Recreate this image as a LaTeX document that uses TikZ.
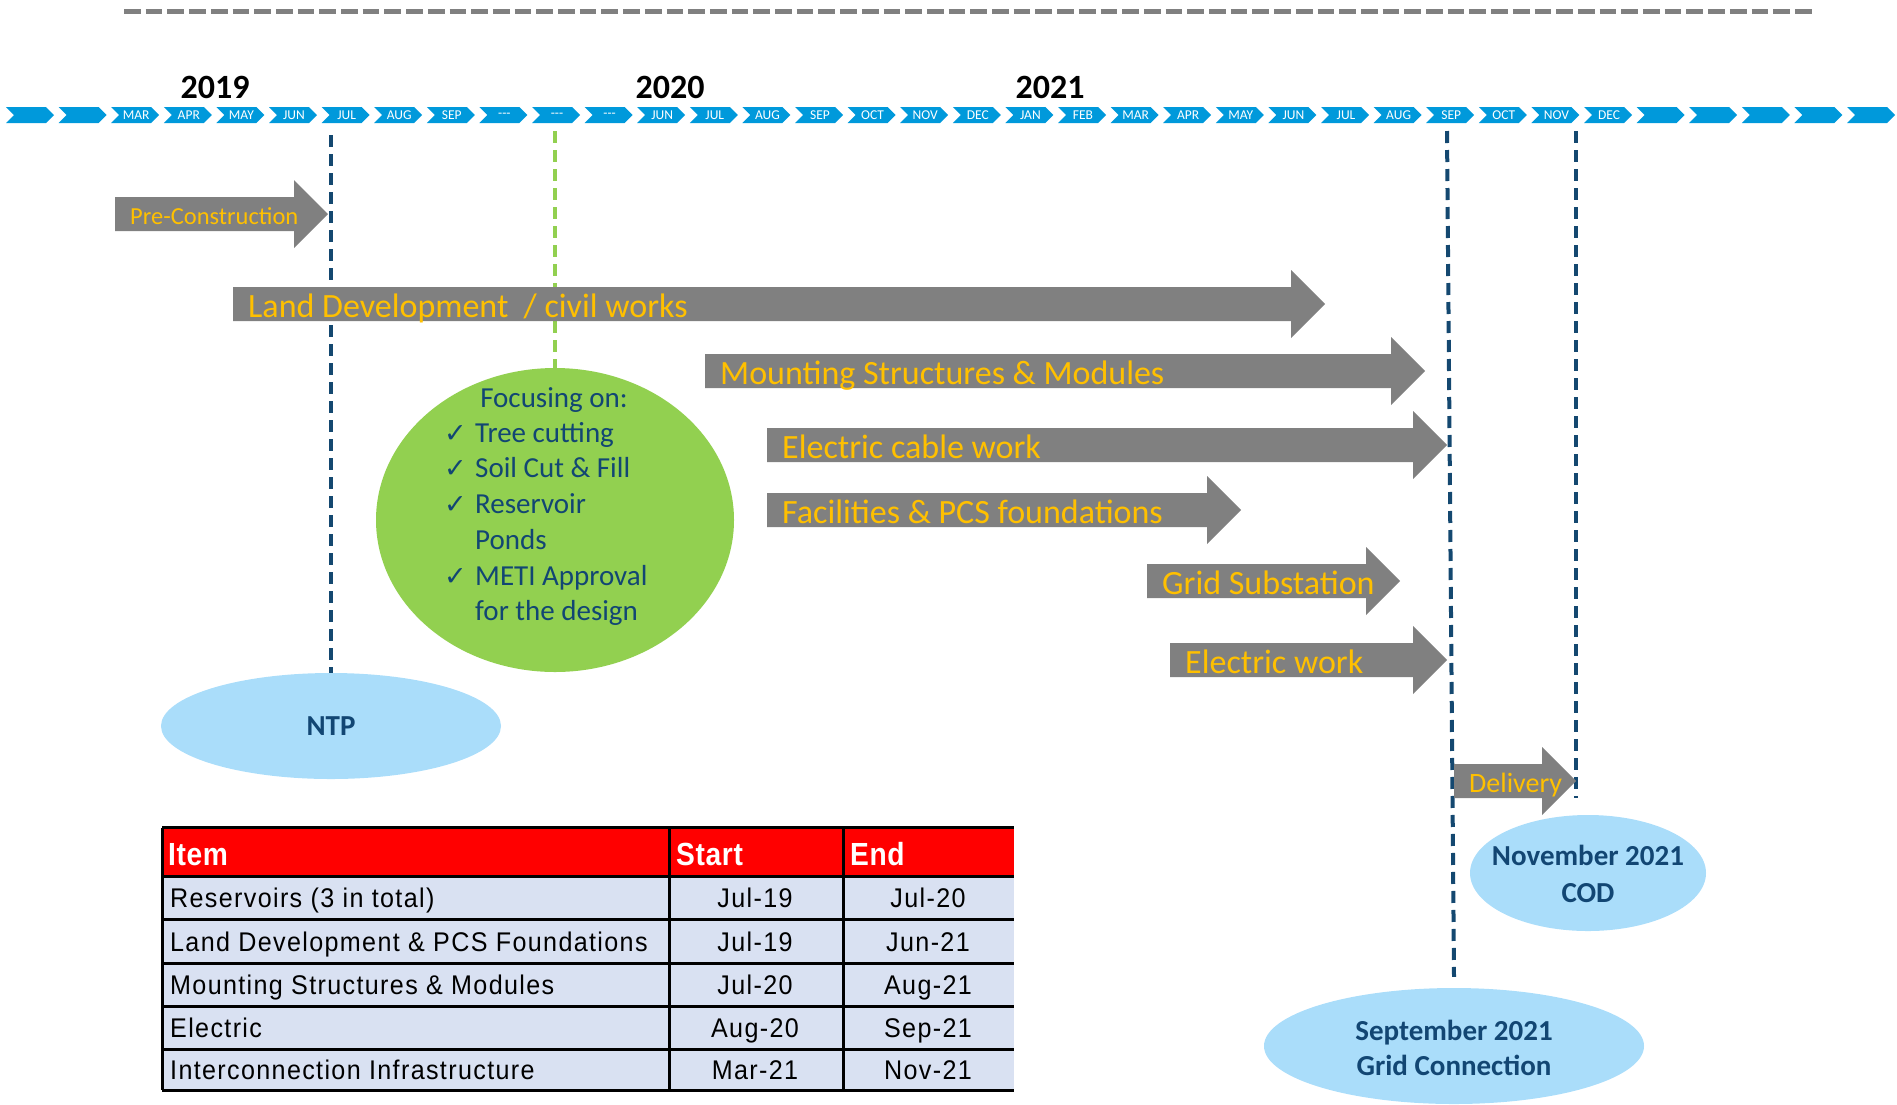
\documentclass[tikz,border=0pt]{standalone}
\usepackage{fontspec}
\setmainfont{Carlito}
\newfontfamily\tabfont[LetterSpace=5,FakeStretch=0.93]{Liberation Sans}
\newfontfamily\tabhead[LetterSpace=2,FakeStretch=0.88]{Liberation Sans}
\newfontfamily\symfont{DejaVu Sans}
\usetikzlibrary{shapes.geometric}
\definecolor{chev}{RGB}{0,153,219}
\definecolor{navy}{RGB}{20,72,112}
\definecolor{navytxt}{RGB}{18,70,115}
\definecolor{grn}{RGB}{146,208,80}
\definecolor{lblue}{RGB}{170,221,250}
\definecolor{gold}{RGB}{255,192,0}
\definecolor{arrgray}{RGB}{128,128,128}
\definecolor{tabred}{RGB}{255,0,0}
\definecolor{tabrow}{RGB}{217,225,242}
\newcommand\fs[1]{\fontsize{#1}{#1}\selectfont}
\newcommand\tdash{-{}-{}-}
\newcommand\barrow[6]{%
  \fill[garrow] (#2,#4-17) -- (#3-34,#4-17) -- (#3-34,#4-34) -- (#3,#4) -- (#3-34,#4+34) -- (#3-34,#4+17) -- (#2,#4+17) -- cycle;
  \node[alab, font=\fs{#6}] (#1) at (#2+15,#4+0.32*#6+2.5) {#5};
}
\tikzset{
  monlab/.style={text=white, font=\fs{13.5}, inner sep=0},
  yearlab/.style={font=\bfseries\fs{34}, inner sep=0},
  garrow/.style={fill=arrgray},
  alab/.style={text=gold, inner sep=0, anchor=base west},
  navydash/.style={draw=navy, line width=4pt, dash pattern=on 12pt off 7pt},
  greendash/.style={draw=grn, line width=4pt, dash pattern=on 12pt off 7pt},
  topdash/.style={draw=arrgray, line width=5pt, dash pattern=on 16.7pt off 5pt},
  blueell/.style={ellipse, fill=lblue, inner sep=0},
  elltxt/.style={text=navytxt, font=\bfseries\fs{29}, align=center, inner sep=0},
  ftxt/.style={text=navytxt, font=\fs{29}, inner sep=0, anchor=base west},
  ctick/.style={text=navytxt, font=\symfont\fs{27}, inner sep=0, anchor=base west},
  tbl/.style={font=\tabfont\fs{27}, inner sep=0, anchor=base west},
  tdate/.style={font=\tabfont\fs{27}, inner sep=0, anchor=base},
  thd/.style={font=\tabhead\bfseries\fs{32}, text=white, inner sep=0, anchor=base west},
  tline/.style={draw=black, line width=3pt},
}
\begin{document}
\begin{tikzpicture}[x=1pt,y=-1pt]
\useasboundingbox (0,0) rectangle (1897,1104);
% top dashed rule
\draw[topdash] (124,11.5) -- (1815,11.5);
% chevrons
\foreach \lab [count=\i from 0] in {{},{},MAR,APR,MAY,JUN,JUL,AUG,SEP,\tdash,\tdash,\tdash,JUN,JUL,AUG,SEP,OCT,NOV,DEC,JAN,FEB,MAR,APR,MAY,JUN,JUL,AUG,SEP,OCT,NOV,DEC,{},{},{},{},{}} {
  \pgfmathsetmacro\xo{6+52.6*\i}
  \fill[chev] (\xo,107) -- ++(40,0) -- ++(8,8) -- ++(-8,8) -- ++(-40,0) -- ++(8,-8) -- cycle;
  \node[monlab] (mon\i) at (\xo+25,115) {\lab};
}
% years
\node[yearlab] (y19) at (215,87) {2019};
\node[yearlab] (y20) at (670,87) {2020};
\node[yearlab] (y21) at (1050,87) {2021};

% milestone ellipses
\node[blueell, minimum width=340pt, minimum height=106pt] (ntp) at (331,726) {};
\node[elltxt] (ntptxt) at (ntp.center) {NTP};
\node[blueell, minimum width=236pt, minimum height=116pt] (cod) at (1588,873) {};
\node[elltxt] (codtxt) at ([yshift=-1pt]cod.center) {November 2021\\[8pt]COD};
\node[blueell, minimum width=380pt, minimum height=116pt] (sep) at (1454,1046) {};
\node[elltxt] (septxt) at ([yshift=-2pt]sep.center) {September 2021\\[6pt]Grid Connection};

% green ellipse + its dashed line
\node[ellipse, fill=grn, minimum width=358pt, minimum height=304pt, inner sep=0] (focus) at (555,520) {};
\draw[greendash] (555,131) -- (focus.north);

% navy dashed milestone lines (under the arrows)
\draw[navydash] (331,135) -- (ntp.north);
\coordinate (septop) at (1447,131);
\draw[navydash] (septop) -- ([yshift=11pt]sep.north);
\coordinate (novtop) at (1576,131);
\coordinate (novend) at (1576,798);
\draw[navydash] (novtop) -- (novend);

\node[text=navytxt, font=\fs{29}, inner sep=0, anchor=base] (f0) at (554,407) {Focusing on:};
\node[ctick] (c1) at (444,442) {✓};
\node[ftxt] (f1) at (475,442) {Tree cutting};
\node[ctick] (c2) at (444,477) {✓};
\node[ftxt] (f2) at (475,477) {Soil Cut \& Fill};
\node[ctick] (c3) at (444,513) {✓};
\node[ftxt] (f3) at (475,513) {Reservoir};
\node[ftxt] (f4) at (475,549) {Ponds};
\node[ctick] (c4) at (444,585) {✓};
\node[ftxt] (f5) at (475,585) {METI Approval};
\node[ftxt] (f6) at (475,620) {for the design};

% gray block arrows
\barrow{pre}{115}{328}{214}{Pre-Construction}{24.5}
\barrow{land}{233}{1325}{304}{Land Development~ / civil works}{34}
\barrow{mount}{705}{1425}{371}{Mounting Structures \& Modules}{34}
\barrow{cable}{767}{1447}{445}{Electric cable work}{34}
\barrow{fac}{767}{1241}{510}{Facilities \& PCS foundations}{34}
\barrow{grid}{1147}{1400}{581}{Grid Substation}{34}
\barrow{ework}{1170}{1447}{660}{Electric work}{34}
\barrow{deliv}{1454}{1576}{781}{Delivery}{28}

% table
\fill[tabred] (162,827.5) rectangle (1014,876);
\fill[tabrow] (162,876) rectangle (1014,1090);
\foreach \yy in {827.5,876,919.5,963,1006.5,1049,1090} \draw[tline] (162,\yy) -- (1014,\yy);
\foreach \xx in {162,669,843} \draw[tline] (\xx,827.5) -- (\xx,1090);
\node[thd] (hitem) at (168,865) {Item};
\node[thd] (hstart) at (676,865) {Start};
\node[thd] (hend) at (850,865) {End};
\node[tbl] (r1) at (170,907.5) {Reservoirs (3 in total)};
\node[tdate] (r1s) at (755,907.5) {Jul-19};
\node[tdate] (r1e) at (928,907.5) {Jul-20};
\node[tbl] (r2) at (170,951) {Land Development \& PCS Foundations};
\node[tdate] (r2s) at (755,951) {Jul-19};
\node[tdate] (r2e) at (928,951) {Jun-21};
\node[tbl] (r3) at (170,994.5) {Mounting Structures \& Modules};
\node[tdate] (r3s) at (755,994.5) {Jul-20};
\node[tdate] (r3e) at (928,994.5) {Aug-21};
\node[tbl] (r4) at (170,1037.5) {Electric};
\node[tdate] (r4s) at (755,1037.5) {Aug-20};
\node[tdate] (r4e) at (928,1037.5) {Sep-21};
\node[tbl] (r5) at (170,1079.5) {Interconnection Infrastructure};
\node[tdate] (r5s) at (755,1079.5) {Mar-21};
\node[tdate] (r5e) at (928,1079.5) {Nov-21};
\end{tikzpicture}
\end{document}
